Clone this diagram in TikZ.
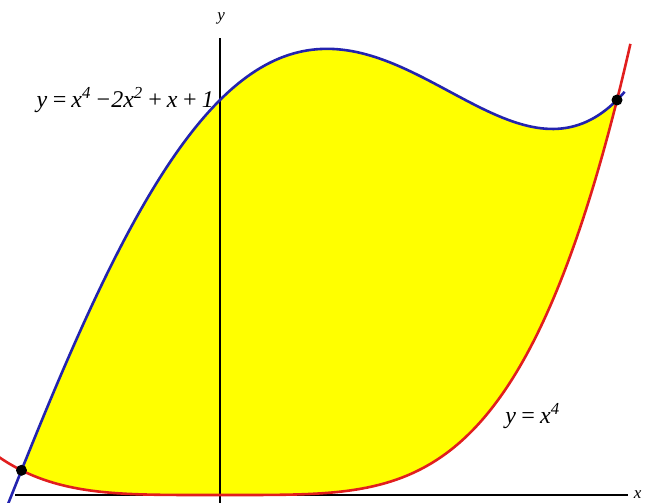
\documentclass[tikz,border=0pt]{standalone}
\usepackage{fontspec}
\setmainfont{Liberation Serif}
\definecolor{cblue}{RGB}{35,35,175}
\definecolor{cred}{RGB}{225,30,30}
\definecolor{cyel}{RGB}{255,255,0}
\tikzset{
  curve/.style={line width=2.6pt},
  axis/.style={line width=1.2pt, black},
  lbl/.style={font=\fontsize{24}{28}\selectfont\itshape, inner sep=0pt},
  axlbl/.style={font=\fontsize{17}{19}\selectfont\itshape, inner sep=0pt},
  dot/.style={circle, fill=black, inner sep=0pt, minimum size=11pt}
}
\begin{document}
\begin{tikzpicture}[x=397pt,y=395pt]
\useasboundingbox (-0.55416,-0.01772) rectangle (1.07305,1.25316);
\clip (-0.55416,-0.01772) rectangle (1.07305,1.25316);
\fill[cyel] plot[domain=-0.5:1, samples=120, smooth] (\x,{\x*\x*\x*\x-2*\x*\x+\x+1})
  -- plot[domain=1:-0.5, samples=120, smooth] (\x,{\x*\x*\x*\x}) -- cycle;
\coordinate (xa0) at (-0.516,0);
\coordinate (xa1) at (1.028,0);
\coordinate (ya0) at (0,-0.02);
\coordinate (ya1) at (0,1.157);
\draw[axis] (xa0) -- (xa1);
\draw[axis] (ya0) -- (ya1);
\node[axlbl, anchor=west] (xl) at (1.042,0) {x};
\node[axlbl, anchor=base] (yl) at (0.003,1.2) {y};
\draw[curve, cred] plot[domain=-0.56:1.035, samples=150, smooth] (\x,{\x*\x*\x*\x});
\draw[curve, cblue] plot[domain=-0.545:1.02, samples=150, smooth] (\x,{\x*\x*\x*\x-2*\x*\x+\x+1});
\node[dot] (p1) at (-0.5,0.0625) {};
\node[dot] (p2) at (1,1) {};
\node[lbl, anchor=base east] (l1) at (-0.015,0.98) {y\,=\,x\textsuperscript{4}\,−2x\textsuperscript{2}\,+\,x\,+\,1};
\node[lbl, anchor=base west] (l2) at (0.718,0.182) {y\,=\,x\textsuperscript{4}};
\end{tikzpicture}
\end{document}
